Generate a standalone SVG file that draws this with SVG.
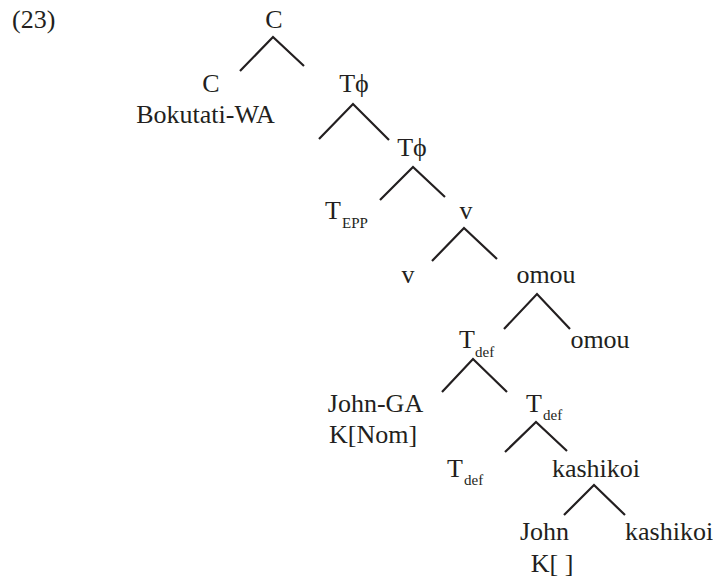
<svg xmlns="http://www.w3.org/2000/svg" width="713" height="577" viewBox="0 0 713 577">
<style>
text{font-size:26px;fill:#231f20}
.m{text-anchor:middle}
.sub{font-size:15px}
.e{fill:none;stroke:#231f20;stroke-width:2.2;stroke-linecap:butt;stroke-linejoin:miter}
</style>
<rect width="713" height="577" fill="#fff"/>
<g font-family="Liberation Serif, serif">
<text x="12" y="28">(23)</text>
<g id="connectors">
<polyline class="e" points="240,71 273,37 304,66"/>
<polyline class="e" points="319,139 353,104 389,140"/>
<polyline class="e" points="380,200 413,167 445,197"/>
<polyline class="e" points="432,261 464,228 497,259"/>
<polyline class="e" points="504,329 537,294 570,329"/>
<polyline class="e" points="442,392 473,359 507,392"/>
<polyline class="e" points="505,452 536,422 567,451"/>
<polyline class="e" points="564,515 594,485 625,515"/>
</g>
<g id="n-C-root"><text class="m" x="274" y="28">C</text></g>
<g id="n-C"><text class="m" x="211" y="92">C</text><text class="m" x="205.5" y="123">Bokutati-WA</text></g>
<g id="n-Tphi1"><text class="m" x="354" y="92">Tϕ</text></g>
<g id="n-Tphi2"><text class="m" x="412" y="156">Tϕ</text></g>
<g id="n-TEPP"><text x="325" y="219">T<tspan class="sub" x="342" y="228">EPP</tspan></text></g>
<g id="n-v1"><text class="m" x="466" y="219">v</text></g>
<g id="n-v2"><text class="m" x="408" y="283">v</text></g>
<g id="n-omou1"><text class="m" x="546" y="283">omou</text></g>
<g id="n-Tdef1"><text x="459" y="348">T<tspan class="sub" x="475" y="357">def</tspan></text></g>
<g id="n-omou2"><text class="m" x="600" y="348">omou</text></g>
<g id="n-JohnGA"><text class="m" x="375.5" y="412">John-GA</text><text class="m" x="373" y="443">K[Nom]</text></g>
<g id="n-Tdef2"><text x="526" y="412">T<tspan class="sub" x="543" y="420">def</tspan></text></g>
<g id="n-Tdef3"><text x="447" y="477">T<tspan class="sub" x="464" y="485">def</tspan></text></g>
<g id="n-kashikoi1"><text class="m" x="596" y="477">kashikoi</text></g>
<g id="n-John"><text class="m" x="544.5" y="540">John</text><text class="m" x="552" y="572">K[ ]</text></g>
<g id="n-kashikoi2"><text x="625" y="540">kashikoi</text></g>
</g>
</svg>
